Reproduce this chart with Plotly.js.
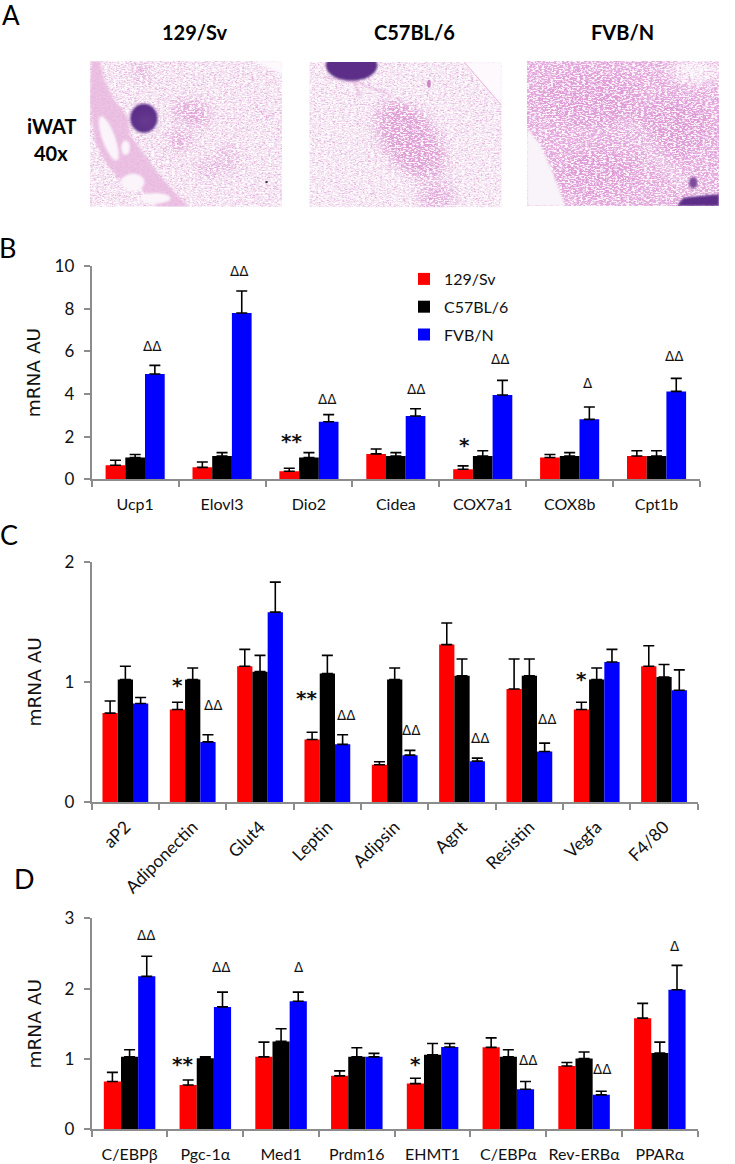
<!DOCTYPE html>
<html><head><meta charset="utf-8">
<script src="https://cdn.plot.ly/plotly-3.0.1.min.js"></script>
<style>html,body{margin:0;padding:0;background:#fff}</style></head>
<body><div id="chart" style="width:735px;height:1164px"></div>
<script>
const strains = ['129/Sv','C57BL/6','FVB/N'];
const colors = ['#ff0000','#000000','#0000ff'];

const bCats = ['Ucp1','Elovl3','Dio2','Cidea','COX7a1','COX8b','Cpt1b'];
const bRed = [0.66,0.56,0.38,1.19,0.47,1.02,1.09];
const bBlack = [1.02,1.09,1.02,1.09,1.09,1.09,1.09];
const bBlue = [4.94,7.8,2.7,2.97,3.95,2.81,4.12];
const bRedTop = [0.89,0.81,0.52,1.42,0.63,1.16,1.34];
const bBlackTop = [1.16,1.25,1.25,1.25,1.34,1.25,1.34];
const bBlueTop = [5.34,8.83,3.03,3.31,4.64,3.39,4.73];

const cCats = ['aP2','Adiponectin','Glut4','Leptin','Adipsin','Agnt','Resistin','Vegfa','F4/80'];
const cRed = [0.74,0.77,1.13,0.52,0.31,1.31,0.94,0.77,1.13];
const cBlack = [1.02,1.02,1.085,1.07,1.02,1.05,1.05,1.02,1.04];
const cBlue = [0.82,0.5,1.58,0.48,0.39,0.34,0.42,1.165,0.93];
const cRedTop = [0.84,0.83,1.27,0.58,0.335,1.49,1.19,0.83,1.30];
const cBlackTop = [1.13,1.115,1.22,1.22,1.115,1.19,1.19,1.115,1.145];
const cBlueTop = [0.87,0.56,1.83,0.56,0.43,0.365,0.49,1.27,1.10];

const dCats = ['C/EBPβ','Pgc-1α','Med1','Prdm16','EHMT1','C/EBPα','Rev-ERBα','PPARα'];
const dRed = [0.68,0.63,1.03,0.76,0.65,1.165,0.90,1.58];
const dBlack = [1.03,1.01,1.25,1.03,1.06,1.03,1.005,1.085];
const dBlue = [2.175,1.74,1.82,1.03,1.17,0.57,0.49,1.985];
const dRedTop = [0.81,0.70,1.24,0.83,0.725,1.30,0.95,1.79];
const dBlackTop = [1.13,1.03,1.43,1.16,1.22,1.13,1.10,1.24];
const dBlueTop = [2.46,1.95,1.95,1.08,1.22,0.68,0.54,2.33];

// significance marks: [x position in category units, y value, symbol]
const bMarks = [[0.194,6.23,'ΔΔ'],[1.197,9.77,'ΔΔ'],[2.216,3.78,'ΔΔ'],[3.236,4.25,'ΔΔ'],[4.2,5.66,'ΔΔ'],[5.209,4.5,'Δ'],[6.206,5.78,'ΔΔ'],[1.795,1.94,'**'],[3.79,1.73,'*']];
const cMarks = [[1.308,0.804,'ΔΔ'],[3.285,0.724,'ΔΔ'],[4.252,0.6,'ΔΔ'],[5.275,0.535,'ΔΔ'],[6.271,0.688,'ΔΔ'],[0.778,0.996,'*'],[2.686,0.893,'**'],[6.772,1.049,'*']];
const dMarks = [[0.228,2.768,'ΔΔ'],[1.211,2.308,'ΔΔ'],[2.232,2.308,'Δ'],[5.262,0.99,'ΔΔ'],[6.239,0.863,'ΔΔ'],[7.197,2.607,'Δ'],[0.698,0.972,'**'],[3.778,0.972,'*']];

const W = 735, H = 1164, FONT = 'Lato, "Open Sans", sans-serif';
const px = v => v / W, py = v => 1 - v / H;
const GREY = '#8c8c8c';

function traces(cats, vals, tops, ax, showLeg) {
  return vals.map((v, i) => ({
    type: 'bar', name: strains[i], x: cats, y: v, xaxis: 'x' + ax, yaxis: 'y' + ax,
    marker: {color: colors[i]}, showlegend: showLeg, legendgroup: 'g' + i,
    error_y: {type: 'data', symmetric: false, array: tops[i].map((t, k) => +(t - v[k]).toFixed(3)),
      arrayminus: v.map(() => 0), color: '#000', thickness: 1.6, width: 5.5}
  }));
}
const data = [
  ...traces(bCats, [bRed, bBlack, bBlue], [bRedTop, bBlackTop, bBlueTop], '', true),
  ...traces(cCats, [cRed, cBlack, cBlue], [cRedTop, cBlackTop, cBlueTop], '2', false),
  ...traces(dCats, [dRed, dBlack, dBlue], [dRedTop, dBlackTop, dBlueTop], '3', false)
];

function xAxis(x0, x1, n, anchor, extra) {
  return Object.assign({domain: [px(x0), px(x1)], anchor, range: [-0.5, n - 0.5], type: 'category',
    showline: true, linecolor: GREY, linewidth: 2, ticks: 'outside', tickson: 'boundaries',
    ticklen: 6, tickwidth: 1.5, tickcolor: GREY, showgrid: false, zeroline: false, automargin: false,
    ticklabelstandoff: 9, tickangle: 0, tickfont: {family: FONT, size: 16, color: '#111'}}, extra || {});
}
function yAxis(yTop, yBottom, max, dt, anchor, standoff) {
  return {domain: [py(yBottom), py(yTop)], anchor, range: [0, max], dtick: dt, tick0: 0,
    showline: true, linecolor: GREY, linewidth: 2, ticks: 'outside', ticklen: 6, tickwidth: 1.5,
    tickcolor: GREY, showgrid: false, zeroline: false, automargin: false, ticklabelstandoff: 6,
    tickfont: {family: FONT, size: 17, color: '#111'},
    title: {text: 'mRNA AU', font: {family: '"DejaVu Sans", sans-serif', size: 18.5, color: '#111'}, standoff}};
}

function note(text, x, y, size, bold) {
  return {xref: 'paper', yref: 'paper', x: px(x), y: py(y), text: bold ? '<b>' + text + '</b>' : text,
    showarrow: false, xanchor: 'center', yanchor: 'middle', font: {family: FONT, size, color: '#000'}};
}
function marks(list, ax) {
  return list.map(([x, y, s]) => {
    const star = s[0] === '*';
    return {xref: 'x' + ax, yref: 'y' + ax, x, y, text: star ? '<b>' + s + '</b>' : s, showarrow: false,
      xanchor: 'center', yanchor: 'middle', yshift: star ? -3 : 0,
      font: {family: '"DejaVu Sans", sans-serif', size: star ? 20 : 13.5, color: '#111'}};
  });
}

// stylised stand-ins for the three H&E micrographs of panel A
function micro(under, over) {
  const svg = '<svg xmlns="http://www.w3.org/2000/svg" width="410" height="435" viewBox="0 0 410 435">' +
    '<defs><filter id="b" x="-60%" y="-60%" width="220%" height="220%"><feGaussianBlur stdDeviation="15"/></filter>' +
    '<filter id="e" x="-5%" y="-5%" width="110%" height="110%"><feGaussianBlur stdDeviation="2.5"/></filter>' +
    '<filter id="s" x="0" y="0" width="100%" height="100%" color-interpolation-filters="sRGB"><feTurbulence type="fractalNoise" baseFrequency="0.16 0.24" numOctaves="3" seed="7"/>' +
    '<feColorMatrix values="0 0 0 0 1  0 0 0 0 1  0 0 0 0 1  4 4 0 0 -3.7"/><feGaussianBlur stdDeviation="0.8"/></filter>' +
    '<filter id="p" x="0" y="0" width="100%" height="100%" color-interpolation-filters="sRGB"><feTurbulence type="fractalNoise" baseFrequency="0.2 0.3" numOctaves="2" seed="3"/>' +
    '<feColorMatrix values="0 0 0 0 .84  0 0 0 0 .55  0 0 0 0 .80  0 4 4 0 -4.1"/><feGaussianBlur stdDeviation="0.8"/></filter></defs>' +
    under + '<rect width="410" height="435" filter="url(#p)" opacity="0.5"/><rect width="410" height="435" filter="url(#s)" opacity="0.9"/>' + over + '</svg>';
  return 'data:image/svg+xml;charset=utf-8,' + encodeURIComponent(svg);
}
const band = '<path d="M3.5 0L21 0L32 62L50 111L82 171L85 221L107 261L153 350L210 435L146 435L89 350L60 350L32 300L11 241L0 131L0 82Z" ';
const img1 = micro(
  '<rect width="410" height="435" fill="#f3e0f0"/>' +
  '<g filter="url(#b)" fill="#d884cc"><ellipse cx="110" cy="37" rx="16" ry="28" opacity=".5"/><ellipse cx="210" cy="151" rx="32" ry="38" opacity=".5"/><ellipse cx="238" cy="171" rx="16" ry="38" opacity=".5"/><ellipse cx="192" cy="236" rx="22" ry="32" opacity=".6"/><ellipse cx="295" cy="291" rx="18" ry="48" opacity=".4"/><ellipse cx="252" cy="320" rx="22" ry="28" opacity=".4"/></g>' +
  '<path d="M352 131L375 170L400 150" stroke="#e3a6d8" stroke-width="3" fill="none"/>',
  band + 'fill="#e8b6de" opacity=".8" filter="url(#e)"/>' +
  '<path d="M350 0L410 0L410 40Z" fill="#fdf9fd" filter="url(#e)"/>' +
  '<ellipse cx="40" cy="231" rx="14" ry="68" fill="#fbf5fb" transform="rotate(-14 40 231)" filter="url(#e)"/><ellipse cx="76" cy="259" rx="9" ry="22" fill="#fbf5fb" filter="url(#e)"/>' +
  '<ellipse cx="92" cy="362" rx="24" ry="26" fill="#fbf5fb" filter="url(#e)"/><ellipse cx="139" cy="410" rx="33" ry="16" fill="#fbf5fb" filter="url(#e)"/>' +
  '<ellipse cx="115" cy="171" rx="29" ry="43" fill="#5c2f88" filter="url(#e)"/><ellipse cx="120" cy="180" rx="14" ry="22" fill="#8258a3" opacity=".5" filter="url(#b)"/><ellipse cx="377" cy="361" rx="3" ry="3" fill="#333"/>');
const img2 = micro(
  '<rect width="410" height="435" fill="#f4e4f2"/>' +
  '<g filter="url(#b)" fill="#d67ec9"><ellipse cx="215" cy="235" rx="62" ry="125" transform="rotate(-22 215 235)" opacity=".65"/><ellipse cx="270" cy="400" rx="40" ry="40" opacity=".5"/></g>',
  '<path d="M330 0L410 0L410 130Z" fill="#fdf9fd" filter="url(#e)"/>' +
  '<path d="M330 0L410 130" stroke="#e3a6d8" stroke-width="2" fill="none"/><path d="M30 45L100 60L175 100M95 60L110 105" stroke="#e3a6d8" stroke-width="3" fill="none" filter="url(#e)"/>' +
  '<ellipse cx="90" cy="10" rx="55" ry="46" fill="#5c2f88" filter="url(#e)"/><ellipse cx="255" cy="65" rx="4" ry="12" fill="#cb86c4"/>');
const img3 = micro(
  '<rect width="410" height="435" fill="#e6aee0"/>' +
  '<g filter="url(#b)" fill="#d884cc"><ellipse cx="130" cy="110" rx="110" ry="80" opacity=".35"/><ellipse cx="310" cy="200" rx="80" ry="90" opacity=".4"/><ellipse cx="150" cy="340" rx="90" ry="70" opacity=".35"/></g>' +
  '<g filter="url(#b)" fill="#f8eef7"><ellipse cx="360" cy="30" rx="55" ry="40"/><path d="M215 190L325 380L340 370L230 180Z" opacity=".7"/></g>',
  '<path d="M0 201L28 251L54 331L82 435L0 435Z" fill="#f9f4f9" filter="url(#e)"/>' +
  '<ellipse cx="355" cy="365" rx="9" ry="17" fill="#7b4c9a" filter="url(#e)"/><path d="M320 435L334 410L369 405L410 400L410 435Z" fill="#5c2f88" filter="url(#e)"/>');

function image(src, x0, x1, y0, y1) {
  return {source: src, xref: 'paper', yref: 'paper', x: px(x0), y: py(y0), sizex: (x1 - x0) / W, sizey: (y1 - y0) / H,
    sizing: 'stretch', xanchor: 'left', yanchor: 'top', layer: 'below'};
}

const layout = {
  width: W, height: H, margin: {l: 0, r: 0, t: 0, b: 0}, autosize: false,
  paper_bgcolor: '#fff', plot_bgcolor: 'rgba(0,0,0,0)', barmode: 'group', bargap: 0.32, bargroupgap: 0,
  font: {family: FONT},
  xaxis: xAxis(91.7, 700, bCats.length, 'y'),
  yaxis: yAxis(266, 479.3, 10, 2, 'x', 9),
  xaxis2: xAxis(91.7, 697.7, cCats.length, 'y2', {tickangle: -45, ticklabelstandoff: 6, tickfont: {family: FONT, size: 17.5, color: '#111'}}),
  yaxis2: yAxis(561.7, 802, 2, 1, 'x2', 18),
  xaxis3: xAxis(91.7, 697.7, dCats.length, 'y3'),
  yaxis3: yAxis(918.3, 1129.3, 3, 1, 'x3', 18),
  legend: {x: px(404), y: py(262), xanchor: 'left', yanchor: 'top', bgcolor: 'rgba(0,0,0,0)',
    tracegroupgap: 4, itemwidth: 30, font: {family: FONT, size: 16, color: '#111'}},
  images: [image(img1, 90, 282, 61, 206.7), image(img2, 309.4, 501.6, 62, 207.3), image(img3, 527, 719, 61, 206)],
  annotations: [
    note('A', 11, 15, 26), note('B', 8, 247, 27), note('C', 9, 535, 27), note('D', 24, 878, 27),
    note('129/Sv', 194.6, 32, 20, true), note('C57BL/6', 414.4, 32, 20, true), note('FVB/N', 622, 32, 20, true),
    note('iWAT', 51.6, 126, 20, true), note('40x', 50.6, 153, 20, true),
    ...marks(bMarks, ''), ...marks(cMarks, '2'), ...marks(dMarks, '3')
  ]
};
Plotly.newPlot('chart', data, layout, {displayModeBar: false, responsive: false});
</script></body></html>
